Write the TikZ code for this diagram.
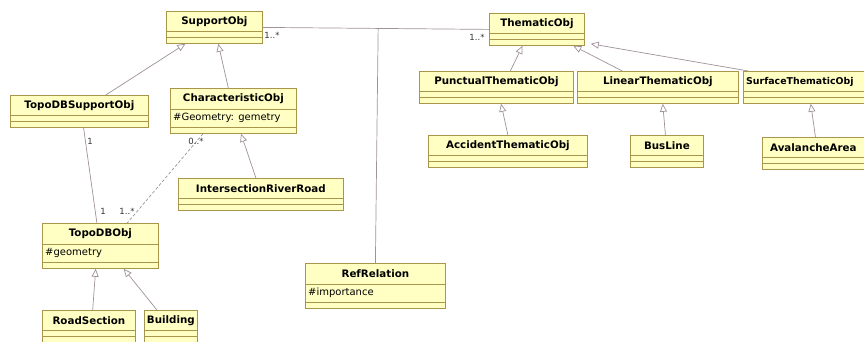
\documentclass[tikz,border=0pt]{standalone}
\usepackage{fontspec}
\setmainfont{DejaVu Sans}
\usetikzlibrary{arrows.meta,calc}
\definecolor{cfill}{RGB}{255,255,196}
\definecolor{cborder}{RGB}{170,150,75}
\definecolor{lcol}{RGB}{160,145,155}
\tikzset{
 cbox/.style={draw=cborder, fill=cfill, line width=0.8pt, inner sep=0pt, rectangle},
 cline/.style={draw=cborder, line width=0.6pt},
 ctitle/.style={font=\bfseries\fontsize{10.3}{12}\selectfont, inner sep=0pt},
 cattr/.style={font=\fontsize{10}{12}\selectfont, inner sep=0pt, anchor=west},
 gen/.style={draw=lcol, line width=0.7pt, -{Triangle[length=8pt, width=7pt, fill=white]}},
 assoc/.style={draw=lcol, line width=0.7pt},
 dassoc/.style={draw=lcol, line width=0.7pt, dash pattern=on 3pt off 2pt},
 mult/.style={font=\fontsize{8.5}{10}\selectfont, text=black!80, inner sep=0pt},
}
% plain class: name, left, top, width, title
\newcommand\uclass[5]{%
 \node[cbox, minimum width=#4, minimum height=32, anchor=north west] (#1) at (#2,#3) {};
 \draw[cline] ($(#1.north west)+(0,20)$) -- ($(#1.north east)+(0,20)$);
 \draw[cline] ($(#1.north west)+(0,26)$) -- ($(#1.north east)+(0,26)$);
 \node[ctitle] (#1-t) at ($(#1.north)+(0,10.5)$) {#5};
}
% class with attribute: name, left, top, width, title, attribute
\newcommand\uclassa[6]{%
 \node[cbox, minimum width=#4, minimum height=45, anchor=north west] (#1) at (#2,#3) {};
 \draw[cline] ($(#1.north west)+(0,21)$) -- ($(#1.north east)+(0,21)$);
 \draw[cline] ($(#1.north west)+(0,39)$) -- ($(#1.north east)+(0,39)$);
 \node[ctitle] (#1-t) at ($(#1.north)+(0,11)$) {#5};
 \node[cattr] (#1-a) at ($(#1.north west)+(3,30)$) {#6};
}
\begin{document}
\begin{tikzpicture}[x=1pt,y=-1pt]
\useasboundingbox (0,0) rectangle (864,341);

\uclass{so}{166}{11}{96}{SupportObj}
\uclass{to}{489}{13}{95}{ThematicObj}
\uclassa{rr}{305}{263}{140}{RefRelation}{\#importance}
\draw[assoc] (so.east) -- (to.west);
\draw[assoc] ($(so.east)!0.51!(to.west)$) -- (rr.north);
\node[mult] (m1) at (272,35) {1..*};
\node[mult] (m2) at (477,37) {1..*};

\uclass{ts}{10}{95}{138}{TopoDBSupportObj}
\uclassa{co}{170}{88}{126}{CharacteristicObj}{\#Geometry: gemetry}
\uclass{ir}{178}{178}{165}{IntersectionRiverRoad}
\uclassa{tdb}{42}{223}{116}{TopoDBObj}{\#geometry}
\uclass{rs}{42}{310}{93}{RoadSection}
\uclass{bu}{144}{310}{53}{Building}

\uclass{pt}{419}{71}{154}{PunctualThematicObj}
\uclass{lt}{577}{71}{161}{LinearThematicObj}
\uclass{st}{743}{71}{132}{}
\node[ctitle, font=\bfseries\fontsize{9.4}{11}\selectfont, anchor=west] (st-t2) at ($(st.north west)+(3,10.5)$) {SurfaceThematicObj};
\uclass{at}{428}{135}{159}{AccidentThematicObj}
\uclass{bl}{630}{135}{73}{BusLine}
\uclass{aa}{762}{137}{102}{AvalancheArea}

% associations left
\draw[assoc] ($(ts.south west)!0.53!(ts.south east)$) -- ($(tdb.north west)!0.47!(tdb.north east)$);
\node[mult] (m3) at (90,141) {1};
\node[mult] (m4) at (103,211) {1};
\draw[dassoc] ($(co.south west)!0.26!(co.south east)$) -- ($(tdb.north west)!0.73!(tdb.north east)$);
\node[mult] (m5) at (196,141) {0..*};
\node[mult] (m6) at (127,211) {1..*};

% generalizations
\draw[gen] ($(ts.north west)!0.69!(ts.north east)$) -- ($(so.south west)!0.2!(so.south east)$);
\draw[gen] ($(co.north west)!0.46!(co.north east)$) -- ($(so.south west)!0.54!(so.south east)$);
\draw[gen] ($(ir.north west)!0.47!(ir.north east)$) -- ($(co.south west)!0.56!(co.south east)$);
\draw[gen] ($(rs.north west)!0.54!(rs.north east)$) -- ($(tdb.south west)!0.46!(tdb.south east)$);
\draw[gen] ($(bu.north west)!0.24!(bu.north east)$) -- ($(tdb.south west)!0.70!(tdb.south east)$);
\draw[gen] ($(pt.north west)!0.59!(pt.north east)$) -- ($(to.south west)!0.35!(to.south east)$);
\draw[gen] ($(lt.north west)!0.28!(lt.north east)$) -- ($(to.south west)!0.88!(to.south east)$);
\draw[gen] ($(st.north west)!0.04!(st.north east)$) -- ($(to.south east)+(6,-2)$);
\draw[gen] ($(at.north west)!0.5!(at.north east)$) -- ($(pt.south west)!0.53!(pt.south east)$);
\draw[gen] ($(bl.north west)!0.48!(bl.north east)$) -- ($(lt.south west)!0.53!(lt.south east)$);
\draw[gen] ($(aa.north west)!0.52!(aa.north east)$) -- ($(st.south west)!0.51!(st.south east)$);
\end{tikzpicture}
\end{document}
